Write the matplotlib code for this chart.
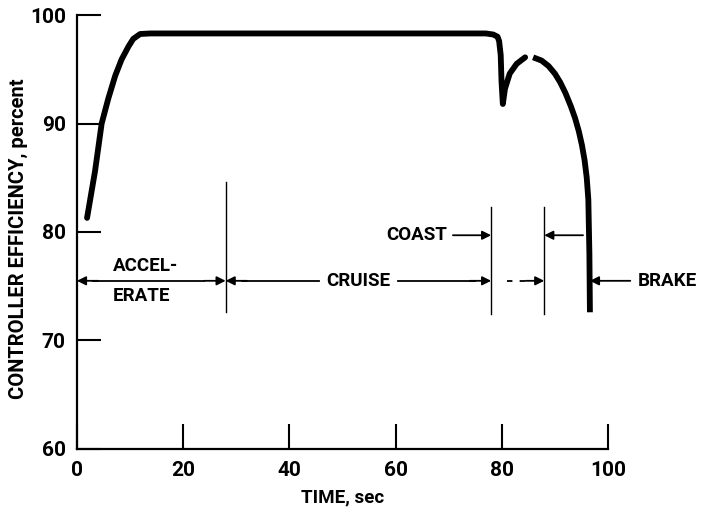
import matplotlib
matplotlib.use("Agg")
import matplotlib.pyplot as plt

# curve (two pieces, there is a small gap near 85 s)
t_part1 = [1.9, 3.4, 4.65, 5.9, 7.2, 8.4, 9.7, 10.6, 11.9, 13.8, 20, 40, 60, 77.0,
           78.4, 79.2, 79.5, 79.8, 79.95, 80.2, 80.6, 81.5, 82.8, 84.4]
eff_part1 = [81.3, 85.6, 90.0, 92.3, 94.4, 95.9, 97.1, 97.8, 98.25, 98.3, 98.3, 98.3, 98.3, 98.3,
             98.2, 98.0, 97.6, 96.3, 93.9, 91.8, 93.2, 94.6, 95.5, 96.1]
t_part2 = [85.9, 87.5, 88.8, 90.0, 91.0, 92.0, 93.0, 93.8, 94.5, 95.1, 95.6, 96.0, 96.3, 96.5, 96.6]
eff_part2 = [96.1, 95.8, 95.3, 94.6, 93.8, 92.8, 91.6, 90.5, 89.3, 88.0, 86.6, 85.0, 83.0, 78.0, 72.6]

# phase boundaries (sec)
t_accel_end = 28
t_cruise_end = 78
t_coast_end = 88
t_brake = 96.6

x_ticks = [0, 20, 40, 60, 80, 100]
y_ticks = [60, 70, 80, 90, 100]

plt.rcParams['font.family'] = ['Roboto', 'DejaVu Sans']
plt.rcParams['font.weight'] = 'bold'

fig = plt.figure(figsize=(7.01, 5.14), dpi=100)
ax = fig.add_axes([0.1098, 0.1265, 0.7575, 0.8443])

ax.plot(t_part1, eff_part1, color='k', lw=4.2, solid_capstyle='round', solid_joinstyle='round')
ax.plot(t_part2, eff_part2, color='k', lw=4.2, solid_capstyle='butt', solid_joinstyle='round')

ax.set_xlim(0, 100)
ax.set_ylim(60, 100)
ax.spines['top'].set_visible(False)
ax.spines['right'].set_visible(False)
ax.spines['left'].set_linewidth(1.6)
ax.spines['bottom'].set_linewidth(1.6)
ax.set_xticks(x_ticks)
ax.set_yticks(y_ticks)
ax.tick_params(axis='x', direction='in', length=18, width=1.5, pad=9, labelsize=15)
ax.tick_params(axis='y', direction='in', length=17, width=1.5, pad=8, labelsize=15)
for lab in ax.get_xticklabels() + ax.get_yticklabels():
    lab.set_fontweight('bold')

ax.set_xlabel('TIME, sec', fontsize=13.5, fontweight='bold', labelpad=6)
ax.set_ylabel('CONTROLLER EFFICIENCY, percent', fontsize=14.5, fontweight='bold')
ax.yaxis.set_label_coords(-0.093, 0.485)

# phase markers
y_dim = 75.5
y_coast = 79.7
thin = 1.0
ax.plot([t_accel_end, t_accel_end], [72.6, 84.6], color='k', lw=thin)
ax.plot([t_cruise_end, t_cruise_end], [72.4, 82.3], color='k', lw=thin)
ax.plot([t_coast_end, t_coast_end], [72.4, 82.3], color='k', lw=thin)

arr = dict(arrowstyle='-|>', color='k', lw=1.3, mutation_scale=13, shrinkA=0, shrinkB=0)
fs = 13.5

# accelerate
ax.plot([3, 24], [y_dim, y_dim], color='k', lw=1.3)
ax.annotate('', xy=(0, y_dim), xytext=(4, y_dim), arrowprops=arr)
ax.annotate('', xy=(t_accel_end, y_dim), xytext=(24, y_dim), arrowprops=arr)
ax.text(6.8, y_dim + 0.55, 'ACCEL-', fontsize=fs, fontweight='bold', ha='left', va='bottom')
ax.text(6.8, y_dim - 0.55, 'ERATE', fontsize=fs, fontweight='bold', ha='left', va='top')

# cruise
ax.plot([t_accel_end + 3, 45.5], [y_dim, y_dim], color='k', lw=1.3)
ax.plot([60.5, t_cruise_end - 3], [y_dim, y_dim], color='k', lw=1.3)
ax.annotate('', xy=(t_accel_end, y_dim), xytext=(t_accel_end + 4, y_dim), arrowprops=arr)
ax.annotate('', xy=(t_cruise_end, y_dim), xytext=(t_cruise_end - 4, y_dim), arrowprops=arr)
ax.text(53.0, y_dim, 'CRUISE', fontsize=fs, fontweight='bold', ha='center', va='center')

# coast
ax.plot([81.0, 84.5], [y_dim, y_dim], color='k', lw=1.3, ls=(0, (3, 4)))
ax.annotate('', xy=(t_coast_end, y_dim), xytext=(84.5, y_dim), arrowprops=arr)
ax.annotate('', xy=(t_cruise_end, y_coast), xytext=(70.8, y_coast), arrowprops=arr)
ax.annotate('', xy=(t_coast_end, y_coast), xytext=(95.3, y_coast), arrowprops=arr)
ax.text(69.8, y_coast, 'COAST', fontsize=fs, fontweight='bold', ha='right', va='center')

# brake
ax.annotate('', xy=(t_brake, y_dim), xytext=(104.2, y_dim), arrowprops=dict(arr, clip_on=False),
            annotation_clip=False)
ax.text(105.6, y_dim, 'BRAKE', fontsize=fs, fontweight='bold', ha='left', va='center', clip_on=False)

fig.savefig('out.png', dpi=100)
